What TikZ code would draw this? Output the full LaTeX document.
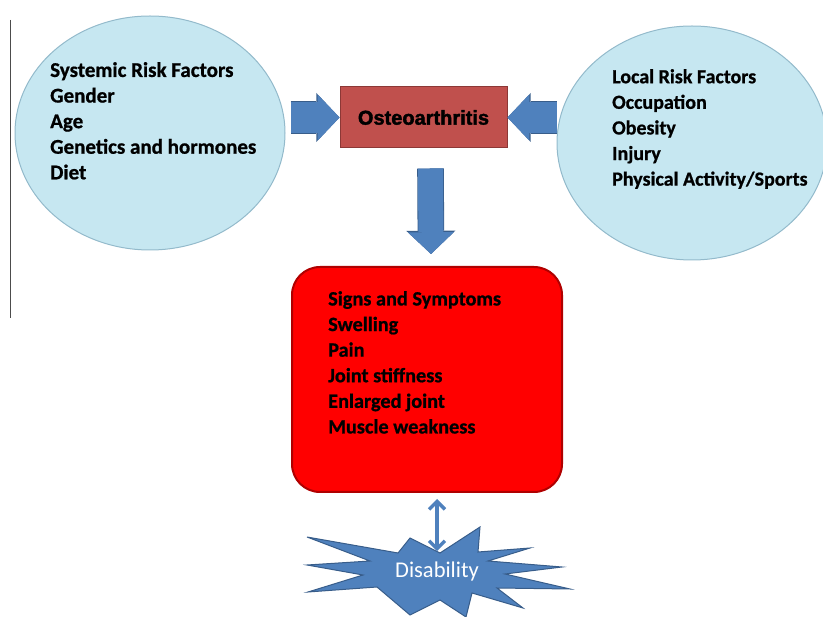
\documentclass[tikz,border=0pt]{standalone}
\usepackage{fontspec}
\setmainfont{Carlito}[BoldFeatures={FakeBold=0.8}]
\newfontfamily\arialfont{Liberation Sans}[BoldFeatures={FakeBold=2}]
\usetikzlibrary{arrows.meta,positioning,shapes.geometric,calc}
\definecolor{ellfill}{HTML}{C6E7F1}
\definecolor{elledge}{HTML}{93BACB}
\definecolor{oafill}{HTML}{C0504D}
\definecolor{oaedge}{HTML}{8C3836}
\definecolor{signedge}{HTML}{B00000}
\definecolor{arrfill}{HTML}{4F81BD}
\definecolor{arredge}{HTML}{385D8A}

\begin{document}
\begin{tikzpicture}[x=1pt,y=-1pt,
  riskell/.style={ellipse, draw=elledge, fill=ellfill, line width=1pt,
    minimum width=270pt, minimum height=234pt, inner sep=0pt},
  listtxt/.style={anchor=north west, align=left, inner sep=0pt,
    font=\fontsize{#1}{25.6}\selectfont\bfseries},
  oabox/.style={draw=oaedge, fill=oafill, line width=1pt,
    minimum width=167pt, minimum height=61pt,
    font=\arialfont\fontsize{20}{24}\selectfont\bfseries},
  signbox/.style={draw=signedge, fill=red, line width=2pt, rounded corners=28pt,
    minimum width=270pt, minimum height=225pt},
  blk/.style={draw=arrfill, line width=#1,
    preaction={draw=arredge, line width=#1+1.6pt,
      -{Triangle[length=23.2pt, width=49pt, line width=0pt]}},
    -{Triangle[length=21.8pt, width=46pt, line width=0pt]}},
  dblarr/.style={draw=arrfill, line width=3.4pt,
    arrows={Straight Barb[length=8pt, width=16pt]-Straight Barb[length=8pt, width=16pt]}}
]
\useasboundingbox (0,0) rectangle (823,617);

% thin frame line on the left
\draw[black!70, line width=0.8pt] (10,20) -- (10,318);

% risk factor ellipses
\node[riskell] (sys) at (150,133) {};
\node[listtxt=21] (systxt) at (50,62) {Systemic Risk Factors\\ Gender\\ Age\\ Genetics and hormones\\ Diet};
\node[riskell] (loc) at (692,143) {};
\node[listtxt=20] (loctxt) at (612,69) {Local Risk Factors\\ Occupation\\ Obesity\\ Injury\\ Physical Activity/Sports};

% main box
\node[oabox] (oa) at (423.5,117.5) {Osteoarthritis};

% signs box
\node[signbox] (signs) at (427,379.5) {};
\node[listtxt=20.3] (signtxt) at (328,291) {Signs and Symptoms\\ Swelling\\ Pain\\ Joint stiffness\\ Enlarged joint\\ Muscle weakness};

% block arrows
\draw[blk=31pt] ($(oa.west -| sys.east)+(5,0)$) -- (oa.west);
\draw[blk=31pt] (oa.east -| loc.west) -- (oa.east);
\draw[blk=25pt] ($(oa.south)+(7,20)$) -- ($(signs.north)+(4,-12)$);

% disability star
\draw[draw=arredge, fill=arrfill, line width=1pt, line join=miter]
  (410,538) -- (440,553) -- (480,527) -- (478,552) -- (530,548) -- (488,561)
  -- (562,567) -- (505,574) -- (570,589) -- (497,588) -- (523,608) -- (472,593)
  -- (466,617) -- (440,600) -- (410,615) -- (377,587) -- (308,592) -- (363,575)
  -- (307,565) -- (370,561) -- (307,537) -- (398,553) -- cycle;
\node[text=white, font=\fontsize{22.5}{26}\selectfont, inner sep=1pt] (dis) at (437,572) {Disability};

% link between signs and disability
\draw[dblarr] ($(signs.south)+(10,6)$) -- ($(dis.north)+(0,-10)$);
\end{tikzpicture}
\end{document}
